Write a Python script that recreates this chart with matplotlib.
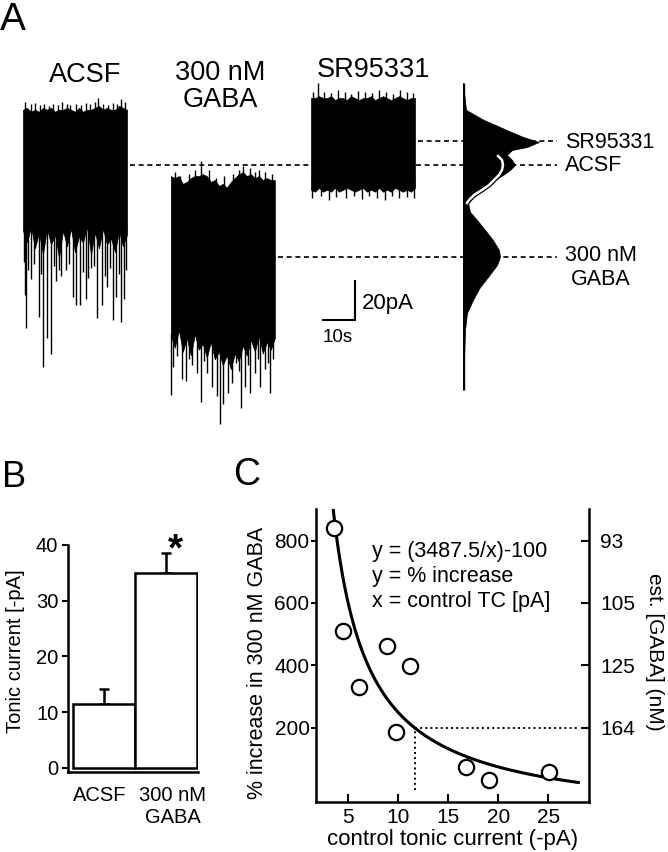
import numpy as np
import matplotlib
matplotlib.use('Agg')
import matplotlib.pyplot as plt
from matplotlib import patheffects as pe

plt.rcParams['font.family'] = ['Liberation Sans', 'DejaVu Sans']

# ---------------- panel A : example sweeps (time in s, current in pA, SR95331 level = 0)
sweep_len = 32.5
env_t = [0, 1.25, 2.5, 3.75, 5, 6.25, 7.5, 8.75, 10, 11.25, 12.5, 13.75, 15, 16.25,
         17.5, 18.75, 20, 21.25, 22.5, 23.75, 25, 26.25, 27.5, 28.75, 30, 31.25, 32.5]

acsf_start = 0.0
acsf_top = [16, 17, 15, 16, 15, 17, 16, 17, 15, 16, 16, 17, 16, 15, 17, 15, 16, 16, 17, 18,
            16, 17, 16, 16, 18, 17, 16]
acsf_bot = [-46, -52, -44, -55, -47, -58, -45, -53, -48, -60, -46, -54, -45, -57, -49, -52,
            -44, -58, -47, -55, -45, -53, -50, -57, -46, -54, -48]
acsf_up_t = [0.7, 2.4, 3.6, 5.2, 6.5, 8.0, 9.4, 11.0, 12.3, 13.6, 14.8, 16.5, 18.0, 19.6,
             21.0, 22.4, 23.4, 25.0, 26.6, 28.0, 29.4, 30.7, 31.9]
acsf_up_a = [20, 19, 19.5, 18.5, 19, 18, 19, 18.5, 20, 19, 18.5, 19, 18.5, 19.5, 19, 20, 22,
             19, 18.5, 19.5, 19, 21.5, 20]
acsf_spk_t = [0.2, 0.5, 1.0, 1.7, 2.6, 3.4, 4.9, 5.6, 6.25, 7.6, 8.8, 9.6, 10.4, 11.2, 12.0,
              13.5, 14.4, 15.6, 16.7, 17.7, 18.6, 19.8, 20.4, 21.2, 22.3, 23.2, 24.7, 25.6,
              26.3, 27.2, 28.1, 29.2, 29.9, 30.7, 31.6, 32.3]
acsf_spk_a = [-62, -79, -96, -66, -71, -63, -90, -68, -116, -101, -109, -64, -72, -66, -69,
              -66, -63, -80, -84, -84, -67, -81, -70, -65, -64, -91, -84, -69, -75, -65,
              -92, -80, -68, -93, -81, -66]

gaba_start = 46.2
gaba_top = [-18, -19, -18, -22, -21, -19, -18, -18, -17, -18, -21, -20, -23, -22, -24, -21,
            -19, -17, -16, -18, -17, -19, -18, -20, -19, -20, -20]
gaba_bot = [-100, -106, -97, -108, -101, -110, -99, -107, -104, -111, -103, -112, -108, -115,
            -110, -117, -109, -113, -105, -110, -102, -108, -100, -109, -103, -107, -101]
gaba_up_t = [1.3, 3.0, 5.8, 7.6, 9.5, 11.8, 14.0, 16.5, 19.5, 21.2, 22.7, 24.8, 26.2, 27.4,
             29.5, 31.6]
gaba_up_a = [-16, -18, -17, -15, -10, -15, -19, -18, -17, -15, -13, -14, -16, -15, -16, -17]
gaba_spk_t = [0.1, 0.8, 2.0, 3.4, 4.7, 5.6, 6.6, 8.1, 9.4, 10.3, 11.25, 12.8, 14.4, 15.4, 16.4,
              17.8, 19.1, 20.3, 21.2, 22.0, 23.2, 24.0, 24.8, 26.3, 27.1, 27.9, 29.5, 30.3,
              31.0, 31.8]
gaba_spk_a = [-130, -116, -110, -122, -123, -112, -115, -119, -134, -113, -119, -126, -131,
              -145, -135, -129, -124, -114, -118, -137, -126, -115, -129, -119, -112, -126,
              -117, -114, -129, -112]

sr_start = 90.0
sr_top = [22, 22, 23, 22, 22, 23, 21, 22, 22, 21, 23, 22, 21, 22, 22, 23, 21, 22, 23, 22,
          21, 22, 23, 22, 21, 22, 22]
sr_bot = [-25, -26, -24, -26, -25, -26, -24, -26, -25, -24, -25, -26, -25, -24, -26, -25,
          -26, -24, -26, -25, -26, -24, -25, -26, -25, -26, -24]
sr_up_t = [0.6, 2.2, 4.0, 6.1, 8.3, 10.5, 12.4, 14.6, 16.8, 19.0, 21.3, 23.5, 25.6, 27.8,
           29.9, 31.8]
sr_up_a = [25, 30, 25, 24.5, 26, 25, 24, 25.5, 25, 24.5, 26, 25, 24, 26, 25, 24.5]
sr_dn_t = [0.3, 3.2, 5.5, 7.9, 10.8, 13.4, 15.8, 18.2, 20.6, 23.1, 25.2, 27.5, 30.1, 32.2]
sr_dn_a = [-29, -28, -30, -28.5, -29, -28, -29.5, -28, -29, -30, -28, -29, -28.5, -29]

# mean holding levels (dashed lines)
level_sr, level_acsf, level_gaba = 0.0, -12.3, -59.5

# all-points histogram of the whole recording
hist_pa = [29.7, 16, 11, 5.6, 2.1, -0.5, -3.1, -4.6, -7.2, -9.7, -12.3, -14.9, -17.4, -21.5,
           -26.7, -31.8, -36.4, -40.5, -45.6, -50.8, -55.9, -59.5, -63.6, -69.7, -74.9,
           -81.5, -88.2, -96.9, -127.7]
hist_n = [0, 3, 20, 44, 60, 76, 64, 49, 44, 49, 52, 47, 40, 27, 14, 5, 7, 14, 22, 30, 36,
          37, 34, 25, 17, 10, 4, 2, 0]
fit_pa = [-7.7, -9.7, -12.3, -14.9, -17.4, -20.0, -22.6, -25.1, -27.7, -30.3, -31.8]
fit_n = [35, 39, 40, 39, 36, 31, 26, 19, 11, 6, 4]

bar_pa, bar_s = 20, 10

# ---------------- panel B
conditions = ['ACSF', '300 nM\nGABA']
tonic_mean = [11.5, 35.0]
tonic_sem = [2.7, 3.6]

# ---------------- panel C
ctrl_tc = [3.6, 4.5, 6.1, 8.9, 11.2, 9.8, 16.8, 19.1, 25.1]
pct_inc = [841, 510, 331, 462, 398, 185, 73, 34, 57]
fit_a, fit_b = 3487.5, 100
right_ticks = [200, 400, 600, 800]
est_gaba = ['164', '125', '105', '93']

W, H = 668, 852
fig = plt.figure(figsize=(W / 100, H / 100), dpi=100)

# ---- A: traces
PX_S, PX_PA = 3.2, 1.95
axa = fig.add_axes([0, 1 - 440 / H, 1, 400 / H])
axa.set_xlim(-23 / PX_S, (W - 23) / PX_S)
axa.set_ylim((141 - 440) / PX_PA, (141 - 40) / PX_PA)
axa.axis('off')

dash = (0, (3.0, 2.2))
axa.plot([33.4, 166.9], [level_acsf] * 2, color='k', lw=1.2, ls=dash, zorder=1)
axa.plot([123.4, 166.9], [level_sr] * 2, color='k', lw=1.2, ls=dash, zorder=1)
axa.plot([79.7, 166.9], [level_gaba] * 2, color='k', lw=1.2, ls=dash, zorder=1)


def draw_sweep(t0, top, bot, up_t, up_a, dn_t, dn_a):
    t = t0 + np.array(env_t)
    axa.fill_between(t, bot, top, color='k', lw=0.5, edgecolor='k', zorder=2)
    axa.vlines(t0 + np.array(up_t), np.mean(top) - 5, up_a, color='k', lw=1.0, zorder=2)
    axa.vlines(t0 + np.array(dn_t), np.mean(bot) + 8, dn_a, color='k', lw=1.0, zorder=2)


draw_sweep(acsf_start, acsf_top, acsf_bot, acsf_up_t, acsf_up_a, acsf_spk_t, acsf_spk_a)
draw_sweep(gaba_start, gaba_top, gaba_bot, gaba_up_t, gaba_up_a, gaba_spk_t, gaba_spk_a)
draw_sweep(sr_start, sr_top, sr_bot, sr_up_t, sr_up_a, sr_dn_t, sr_dn_a)

axa.text(19.4, 33.8, 'ACSF', fontsize=19.5, ha='center', va='center')
axa.text(61.6, 28.2, '300 nM\nGABA', fontsize=19.5, ha='center', va='center', linespacing=1.05)
axa.text(109.4, 36.4, 'SR95331', fontsize=19.5, ha='center', va='center')

# scale bar
sb_x, sb_y = 103.75, -91.8
axa.plot([sb_x - bar_s, sb_x, sb_x], [sb_y, sb_y, sb_y + bar_pa], color='k', lw=1.5,
         solid_joinstyle='miter')
axa.text(sb_x + 2.2, sb_y + 8.7, '%dpA' % bar_pa, fontsize=16, ha='left', va='center')
axa.text(sb_x - bar_s, sb_y - 9.2, '%ds' % bar_s, fontsize=13.5, ha='left', va='center')

axa.text(169.4, -1.0, 'SR95331', fontsize=15.5, ha='left', va='center')
axa.text(169.4, -12.8, 'ACSF', fontsize=15.5, ha='left', va='center')
axa.text(169.4, -64.9, '300 nM\nGABA', fontsize=15.5, ha='left', va='center',
         multialignment='center', linespacing=1.15)

# histogram
axh = fig.add_axes([463 / W, 1 - 440 / H, 110 / W, 400 / H])
axh.set_xlim(0, 110)
axh.set_ylim(axa.get_ylim())
axh.axis('off')
axh.fill_betweenx(hist_pa, 0, hist_n, color='k', lw=0.5)
axh.plot([0, 0], [hist_pa[0], hist_pa[-1]], color='k', lw=2.4, solid_capstyle='butt')
axh.plot(fit_n, fit_pa, color='white', lw=1.8,
         path_effects=[pe.Stroke(linewidth=3.6, foreground='k'), pe.Normal()])

# ---- B: bar chart
axb = fig.add_axes([68 / W, 1 - 772 / H, 130 / W, 227 / H])
xb = np.arange(len(conditions))
axb.bar(xb, tonic_mean, width=1.0, color='white', edgecolor='k', linewidth=1.8, zorder=2)
axb.errorbar(xb, tonic_mean, yerr=[[0, 0], tonic_sem], fmt='none', ecolor='k',
             elinewidth=1.8, capsize=3.8, capthick=1.8, zorder=1)
axb.set_xlim(-0.58, 1.52)
axb.set_ylim(-0.72, 40)
axb.set_yticks([0, 10, 20, 30, 40])
# labels sit a little off the bar centres in the original
axb.set_xticks(xb + np.array([-0.06, 0.11]))
axb.set_xticklabels(conditions)
for s in ['top', 'right']:
    axb.spines[s].set_visible(False)
for s in ['left', 'bottom']:
    axb.spines[s].set_linewidth(1.8)
axb.tick_params(axis='y', direction='out', length=4.5, width=1.5, labelsize=14.5, pad=2.5)
axb.tick_params(axis='x', length=0, labelsize=14.5, pad=10)
axb.set_ylabel('Tonic current [-pA]', fontsize=14.5)
axb.yaxis.set_label_coords(-0.40, 0.533)
axb.yaxis.label.set_va('center')
axb.text(1.15, 37.2, '*', fontsize=28, fontweight='bold', ha='center', va='baseline')

# ---- C: scatter with fit
axc = fig.add_axes([316 / W, 1 - 802 / H, 273 / W, 293 / H])
xs = np.linspace(3.4, 28, 300)
axc.plot(xs, fit_a / xs - fit_b, color='k', lw=2.2, zorder=2)
axc.plot(ctrl_tc, pct_inc, 'o', mfc='white', mec='k', ms=11, mew=1.6, zorder=3)
x200 = fit_a / (200 + fit_b)
axc.plot([x200, x200], [0, 200], color='k', ls=':', lw=1.4, zorder=1)
axc.plot([x200, 27.9], [200, 200], color='k', ls=':', lw=1.4, zorder=1)
axc.set_xlim(1.77, 29.07)
axc.set_ylim(-38, 901)
axc.set_xticks([5, 10, 15, 20, 25])
axc.set_yticks(right_ticks)
axc.spines['top'].set_visible(False)
for s in ['left', 'bottom', 'right']:
    axc.spines[s].set_linewidth(1.8)
axc.tick_params(axis='x', direction='in', length=5.5, width=1.5, labelsize=15, pad=4.5)
axc.tick_params(axis='y', direction='out', length=3.6, width=1.5, labelsize=15, pad=1)
axc.set_xlabel('control tonic current (-pA)', fontsize=16)
axc.xaxis.set_label_coords(0.5, -0.128)
axc.xaxis.label.set_va('center')
axc.set_ylabel('% increase in 300 nM GABA', fontsize=15.5)
axc.yaxis.set_label_coords(-0.2125, 0.474)
axc.yaxis.label.set_va('center')

ax2 = axc.twinx()
ax2.set_ylim(axc.get_ylim())
ax2.set_yticks(right_ticks)
ax2.set_yticklabels(est_gaba)
for s in ax2.spines.values():
    s.set_visible(False)
ax2.tick_params(axis='y', direction='in', length=5.5, width=1.5, labelsize=15, pad=8)
ax2.set_ylabel('est. [GABA] (nM)', fontsize=15, rotation=270)
ax2.yaxis.set_label_coords(1.24, 0.512)
ax2.yaxis.label.set_va('center')

for i, line in enumerate(['y = (3487.5/x)-100', 'y = % increase', 'x = control TC [pA]']):
    axc.text(7.37, 763.5 - 80 * i, line, fontsize=15.5, ha='left', va='center')

# panel letters
fig.text(0.0, 1 - 30 / H, 'A', fontsize=28, va='baseline', ha='left')
fig.text(2 / W, 1 - 487 / H, 'B', fontsize=26, va='baseline', ha='left')
fig.text(233 / W, 1 - 485 / H, 'C', fontsize=27, va='baseline', ha='left')

fig.savefig('out.png', dpi=100)
